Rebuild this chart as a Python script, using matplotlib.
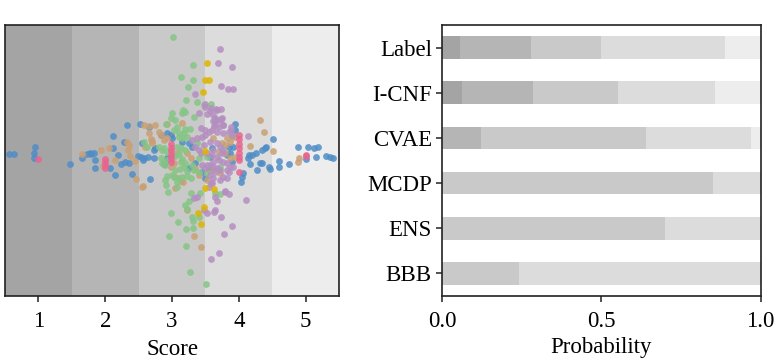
import numpy as np
import matplotlib
matplotlib.use('Agg')
from matplotlib import pyplot as plt

plt.rcParams['font.family'] = ['Liberation Serif', 'DejaVu Serif']
plt.rcParams['font.size'] = 16.5

# grey shade for each score 1..5 (background bands and stacked bars)
shades = ['#a4a4a4', '#b5b5b5', '#c9c9c9', '#dcdcdc', '#ededed']
scores = [1, 2, 3, 4, 5]

# left panel: (score, vertical spread) per method
icnf = [(0.56, 5.7), (0.63, 6.3), (0.95, 13), (0.93, 7.3), (0.93, 1.7), (1.48, -4.3), (1.65, 2.3),
        (1.72, 5.7), (1.77, 7.3), (1.83, 6.7), (1.79, 6), (1.84, 0), (1.85, -7.7), (2.11, 24.3),
        (2.12, 12.3), (2.07, -8.3), (2.19, 5.3), (2.15, -15), (2.28, 17.7), (2.33, 35), (2.29, -1.7),
        (2.23, -4), (2.36, -2.7), (2.40, -14.3), (2.49, 4), (2.52, 35.7), (2.54, 3), (2.56, 0),
        (2.58, 2), (2.67, -19), (2.64, 3.3), (2.65, 33.3), (2.73, 10), (2.73, 1.7), (2.83, 25),
        (2.93, 26.7), (2.98, 25), (3.00, 21.7), (2.55, 16.7), (2.75, 11.7), (3.15, 18.3), (3.25, 16.7),
        (3.30, 13.3), (2.88, -4.3), (2.93, 2.3), (3.35, -3), (3.45, -12), (3.55, -9), (3.25, -8),
        (3.60, 12), (3.50, -18), (3.64, 40), (3.95, 35.7), (3.94, 30), (3.85, 13.3), (3.92, 13.3),
        (3.57, 3.3), (3.82, 5), (3.87, 6.7), (3.90, -1.7), (4.51, 20.7), (4.41, 12.7), (4.35, 10),
        (4.39, 11.7), (4.25, 7.3), (4.20, 5), (4.15, 5), (4.13, 1.7), (4.17, -4.3), (4.27, -10.3),
        (4.31, -2.7), (4.34, -2.7), (4.45, -6.7), (4.47, -9.3), (4.60, -1.3), (4.60, -6.7), (4.75, -4),
        (4.88, 12.7), (5.03, 12.7), (5.12, 12.3), (5.19, 13.3), (5.01, 0.7), (5.16, 2.7), (5.31, 4.3),
        (5.36, 2.7), (5.41, 1.7), (4.06, -13.3), (4.05, -17.3), (4.04, -21.7)]

cvae = [(1.66, 6.3), (1.93, 10), (1.96, -5.7), (2.05, 11.7), (2.15, 0), (2.33, 18.3), (2.35, 15.3),
        (2.34, 10), (2.37, 4.3), (2.46, -19.3), (2.45, -0.7), (2.55, -26.7), (2.58, 35), (2.66, 34),
        (2.74, 34.7), (2.60, 13.3), (2.56, -25.7), (2.69, 21.3), (2.70, 19.3), (2.80, 27.7), (2.83, 25),
        (3.15, 36.7), (2.93, 36), (2.65, 26.7), (2.70, 16.7), (2.88, 20), (2.93, 21.7), (3.08, 6.7),
        (3.23, 6.7), (3.28, 1.7), (2.98, -6.7), (3.03, -3.3), (3.05, -16.7), (3.13, -20.7),
        (3.04, -28.3), (3.16, -21.7), (3.23, -50), (3.33, -76), (3.44, -86.7), (3.40, -15),
        (3.60, -10), (3.70, -9.3), (3.72, -13.3), (3.82, 21.7), (3.90, 22.7), (3.95, 23.3),
        (3.87, 18.3), (3.75, 16.7), (3.80, 15), (3.70, 8.3), (3.80, 6.7), (3.87, 1.7), (3.95, 3.3),
        (4.17, 14), (4.32, 39.7), (4.38, 27.7), (4.51, 9), (4.88, -2.3), (4.90, 1.7), (3.35, -8),
        (3.52, -20), (3.62, 22)]

ens = [(3.02, 122.7), (3.32, 95.3), (3.13, 83.3), (3.32, 80), (3.24, 73.3), (3.21, 60), (3.37, 57.7),
       (3.58, 56), (3.17, 50), (3.15, 47.3), (3.19, 48.3), (3.48, 55), (3.00, 46.7), (2.99, 41.7),
       (3.05, 40), (3.33, 43.3), (2.91, 35.7), (3.20, 30.7), (3.27, 30.7), (3.03, 30), (3.08, 33.3),
       (3.18, 27.3), (3.10, 23.3), (3.15, 21.7), (3.23, 23.3), (2.58, 18.3), (2.63, 13.3), (2.80, 13.3),
       (2.85, 10), (3.08, 13.3), (3.13, 11.7), (3.20, 10), (3.38, 16.7), (2.83, 1.7), (2.93, 0),
       (3.40, 1.7), (3.53, 3.3), (2.85, -3.3), (2.89, -5), (3.13, -1.7), (3.20, -3.3), (3.30, -5),
       (2.92, -16), (2.90, -20), (3.00, -15), (3.10, -18.3), (3.15, -17.3), (3.28, -18.3),
       (2.94, -32.3), (3.08, -26.7), (3.28, -33.3), (3.42, -33.3), (3.20, -45), (3.25, -40.7),
       (2.99, -52.7), (3.30, -56.7), (3.09, -62.3), (3.32, -61), (3.21, -69), (3.32, -68.3),
       (2.96, -76), (3.21, -85.7), (3.27, -112.3), (3.51, -124.3), (3.33, -10), (3.53, -13.3),
       (3.72, -6.7), (3.65, -33.3), (3.72, -34), (2.91, -25), (3.03, -16.7), (3.08, -21.7),
       (3.23, -16), (3.41, -56.7), (3.23, -49.3), (2.88, 12), (2.93, 8), (3.05, 4), (3.10, 6),
       (3.15, 1), (3.18, -7), (3.12, -9), (3.22, -11), (3.05, -10), (3.40, -11.7), (3.10, 26.7)]

bbb = [(3.72, 110.7), (3.69, 97), (3.90, 92.7), (3.73, 74.3), (3.84, 70.7), (3.91, 71.3), (3.35, 65.7),
       (3.49, 56.3), (3.49, 53), (3.40, 46.7), (3.66, 50.7), (3.74, 50.7), (3.53, 46), (3.57, 49.3),
       (3.61, 39), (3.65, 41.7), (3.73, 40.7), (3.77, 35), (3.70, 33.3), (3.63, 34), (3.89, 32.7),
       (3.89, 30), (4.13, 23.7), (3.67, 50), (3.59, 51.7), (3.62, 45), (3.70, 40), (3.75, 41.7),
       (3.77, 35), (3.65, 35), (3.60, 30), (3.67, 28.3), (3.77, 26.7), (3.85, 28.3), (3.90, 25),
       (3.57, 18.3), (3.67, 16.7), (3.72, 13.3), (3.77, 10), (3.62, 10), (3.60, 5), (3.67, 3.3),
       (3.75, 6.7), (3.62, -1.7), (3.70, 0), (3.77, -1.7), (3.82, -3.3), (3.43, 31.7), (3.50, 30),
       (3.30, 20), (3.38, 21.7), (3.45, 23.3), (3.50, 25), (3.55, 28.3), (3.35, 13.3), (3.40, 10),
       (3.48, 15), (3.43, 6.7), (3.53, 6.7), (3.45, -5), (3.53, -5), (3.50, -8.3), (3.57, -5),
       (3.62, -6.7), (3.67, -8.3), (3.65, -11.7), (3.72, -10), (3.82, -10), (3.87, -6.7), (3.92, -6.7),
       (3.85, -11.7), (3.77, -16.7), (3.82, -18.3), (3.72, -20), (3.57, -15), (3.62, -18.3),
       (3.58, -23.3), (3.55, -26.7), (3.60, -23.3), (3.86, -34), (4.10, -40.3), (3.80, -30.7),
       (3.79, -31.7), (3.65, -36.7), (3.67, -40.7), (3.65, -50), (3.63, -51.7), (3.74, -56.7),
       (3.33, -38.3), (3.38, -36.7), (3.48, -50), (3.53, -52.7), (3.90, -66.3), (3.78, -74.3),
       (3.70, -93.3), (3.58, -99)]

label = [(1.00, 1.3), (2.00, 1.5), (2.00, -1.5), (2.00, -4.5), (2.00, -7.5), (2.99, 16), (2.99, 12.5),
         (2.99, 9), (2.99, 5.5), (2.99, 2), (2.99, -1.5), (4.00, 25), (4.00, 20.7), (4.00, 16),
         (4.00, 11.7), (4.00, 6.7), (4.00, 3.3), (4.00, 0), (4.01, -11.7), (5.00, 5.5), (5.00, 4.5)]

mcdp = [(3.52, 97.5), (3.49, 80.5), (3.56, 80.5), (3.47, 68.3), (3.50, 9.3), (3.49, -28),
        (3.63, -29.3), (3.48, -46.7), (3.39, -52.7), (3.44, -63.5)]

# right panel: probability of each score per method
methods = ['Label', 'I-CNF', 'CVAE', 'MCDP', 'ENS', 'BBB']
probs = {
    'Label': [0.055, 0.223, 0.221, 0.389, 0.112],
    'I-CNF': [0.062, 0.224, 0.266, 0.306, 0.142],
    'CVAE':  [0.0, 0.121, 0.519, 0.331, 0.029],
    'MCDP':  [0.0, 0.0, 0.851, 0.149, 0.0],
    'ENS':   [0.0, 0.0, 0.700, 0.300, 0.0],
    'BBB':   [0.0, 0.0, 0.241, 0.759, 0.0],
}

series = [(icnf, '#4f8dc6'), (cvae, '#c9a074'), (ens, '#85c585'),
          (bbb, '#b48fc0'), (mcdp, '#dcb500'), (label, '#e8648f')]

fig = plt.figure(figsize=(7.81, 3.64), dpi=100)
ax1 = fig.add_axes([0.0064, 0.1868, 0.4277, 0.7445])
ax2 = fig.add_axes([0.5663, 0.1868, 0.4075, 0.7445])

for s, c in zip(scores, shades):
    ax1.axvspan(s - 0.5, s + 0.5, color=c, lw=0, zorder=0)
for pts, c in series:
    arr = np.array(pts)
    ax1.scatter(arr[:, 0], arr[:, 1], s=24, color=c, alpha=0.85, lw=0, zorder=2)
ax1.set_xlim(0.5, 5.5)
ax1.set_ylim(-136, 135)
ax1.set_xticks(scores)
ax1.set_yticks([])
ax1.set_xlabel('Score', labelpad=5)

ypos = np.arange(len(methods))[::-1]
for y, m in zip(ypos, methods):
    left = 0.0
    for p, c in zip(probs[m], shades):
        if p > 0:
            ax2.barh(y, p, left=left, height=0.5, color=c, lw=0)
        left += p
ax2.set_xlim(0, 1)
ax2.set_ylim(-0.5, 5.5)
ax2.set_yticks(ypos)
ax2.set_yticklabels(methods)
ax2.set_xticks([0, 0.5, 1.0])
ax2.set_xticklabels(['0.0', '0.5', '1.0'])
ax2.set_xlabel('Probability', labelpad=4)

for ax in (ax1, ax2):
    for sp in ax.spines.values():
        sp.set_linewidth(1.2)
        sp.set_color('#222222')
    ax.tick_params(length=4.5, width=1.1, color='#222222', pad=6)
ax2.tick_params(axis='y', pad=3)

plt.savefig('out.png', dpi=100)
